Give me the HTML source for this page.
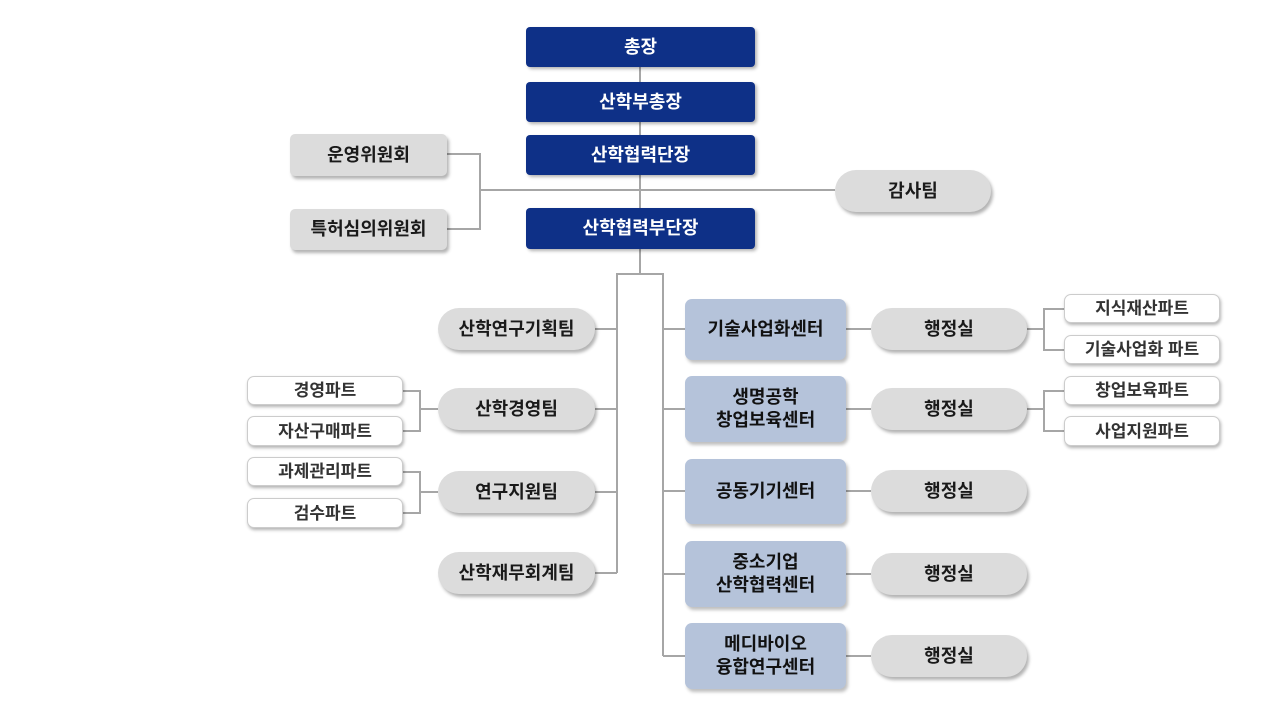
<!DOCTYPE html>
<html><head><meta charset="utf-8"><style>
body{margin:0;width:1280px;height:720px;background:#fff;position:relative;overflow:hidden;font-family:"Liberation Sans","Noto Sans CJK KR","NanumGothic",sans-serif;font-weight:bold}
.b{position:absolute;display:flex;align-items:center;justify-content:center;text-align:center;box-sizing:border-box;font-size:18px;line-height:23px;color:#1a1a1a}
.n{background:#0e3087;color:#fff;border-radius:4px;box-shadow:2px 2px 3px rgba(0,0,0,.3)}
.p{background:#dcdcdc;border-radius:21px;box-shadow:2px 3px 3px rgba(0,0,0,.3)}
.g{background:#dcdcdc;border-radius:5px;box-shadow:2px 3px 3px rgba(0,0,0,.3)}
.c{background:#b5c3da;border-radius:7px;box-shadow:2px 3px 3px rgba(0,0,0,.25);color:#111}
.w{background:#fff;border:1px solid #ccc;border-radius:7px;box-shadow:1px 2px 3px rgba(0,0,0,.3);font-size:17px;color:#333}
.l{position:absolute;background:#a6a6a6}
</style></head><body>
<div class="l" style="left:639px;top:67px;width:2px;height:208px"></div>
<div class="l" style="left:480px;top:189px;width:355px;height:2px"></div>
<div class="l" style="left:447px;top:153px;width:34px;height:2px"></div>
<div class="l" style="left:447px;top:228px;width:34px;height:2px"></div>
<div class="l" style="left:479px;top:153px;width:2px;height:77px"></div>
<div class="l" style="left:617px;top:273px;width:47px;height:2px"></div>
<div class="l" style="left:616px;top:273px;width:2px;height:300px"></div>
<div class="l" style="left:662px;top:273px;width:2px;height:383px"></div>
<div class="l" style="left:595px;top:328px;width:22px;height:2px"></div>
<div class="l" style="left:595px;top:408px;width:22px;height:2px"></div>
<div class="l" style="left:595px;top:491px;width:22px;height:2px"></div>
<div class="l" style="left:595px;top:572px;width:22px;height:2px"></div>
<div class="l" style="left:403px;top:390px;width:17px;height:2px"></div>
<div class="l" style="left:403px;top:430px;width:17px;height:2px"></div>
<div class="l" style="left:419px;top:390px;width:2px;height:42px"></div>
<div class="l" style="left:420px;top:408px;width:18px;height:2px"></div>
<div class="l" style="left:403px;top:471px;width:17px;height:2px"></div>
<div class="l" style="left:403px;top:512px;width:17px;height:2px"></div>
<div class="l" style="left:419px;top:471px;width:2px;height:43px"></div>
<div class="l" style="left:420px;top:491px;width:18px;height:2px"></div>
<div class="l" style="left:663px;top:328px;width:22px;height:2px"></div>
<div class="l" style="left:663px;top:408px;width:22px;height:2px"></div>
<div class="l" style="left:663px;top:490px;width:22px;height:2px"></div>
<div class="l" style="left:663px;top:573px;width:22px;height:2px"></div>
<div class="l" style="left:663px;top:655px;width:22px;height:2px"></div>
<div class="l" style="left:846px;top:328px;width:25px;height:2px"></div>
<div class="l" style="left:846px;top:408px;width:25px;height:2px"></div>
<div class="l" style="left:846px;top:490px;width:25px;height:2px"></div>
<div class="l" style="left:846px;top:573px;width:25px;height:2px"></div>
<div class="l" style="left:846px;top:655px;width:25px;height:2px"></div>
<div class="l" style="left:1027px;top:328px;width:17px;height:2px"></div>
<div class="l" style="left:1043px;top:308px;width:2px;height:42px"></div>
<div class="l" style="left:1043px;top:308px;width:21px;height:2px"></div>
<div class="l" style="left:1043px;top:349px;width:21px;height:2px"></div>
<div class="l" style="left:1027px;top:408px;width:17px;height:2px"></div>
<div class="l" style="left:1043px;top:390px;width:2px;height:42px"></div>
<div class="l" style="left:1043px;top:390px;width:21px;height:2px"></div>
<div class="l" style="left:1043px;top:430px;width:21px;height:2px"></div>
<div class="b n" style="left:526px;top:27px;width:229px;height:40px">총장</div>
<div class="b n" style="left:526px;top:82px;width:229px;height:40px">산학부총장</div>
<div class="b n" style="left:526px;top:135px;width:229px;height:40px">산학협력단장</div>
<div class="b n" style="left:526px;top:208px;width:229px;height:41px">산학협력부단장</div>
<div class="b g" style="left:290px;top:134px;width:157px;height:42px">운영위원회</div>
<div class="b g" style="left:290px;top:209px;width:157px;height:41px">특허심의위원회</div>
<div class="b p" style="left:835px;top:170px;width:156px;height:42px">감사팀</div>
<div class="b p" style="left:438px;top:308px;width:157px;height:42px">산학연구기획팀</div>
<div class="b p" style="left:438px;top:388px;width:157px;height:42px">산학경영팀</div>
<div class="b p" style="left:438px;top:471px;width:157px;height:42px">연구지원팀</div>
<div class="b p" style="left:438px;top:552px;width:157px;height:42px">산학재무회계팀</div>
<div class="b w" style="left:247px;top:376px;width:156px;height:29px">경영파트</div>
<div class="b w" style="left:247px;top:416px;width:156px;height:30px">자산구매파트</div>
<div class="b w" style="left:247px;top:457px;width:156px;height:29px">과제관리파트</div>
<div class="b w" style="left:247px;top:498px;width:156px;height:30px">검수파트</div>
<div class="b c" style="left:685px;top:299px;width:161px;height:61px">기술사업화센터</div>
<div class="b c" style="left:685px;top:376px;width:161px;height:66px">생명공학<br>창업보육센터</div>
<div class="b c" style="left:685px;top:459px;width:161px;height:65px">공동기기센터</div>
<div class="b c" style="left:685px;top:541px;width:161px;height:66px">중소기업<br>산학협력센터</div>
<div class="b c" style="left:685px;top:623px;width:161px;height:66px">메디바이오<br>융합연구센터</div>
<div class="b p" style="left:871px;top:308px;width:156px;height:42px">행정실</div>
<div class="b p" style="left:871px;top:388px;width:156px;height:42px">행정실</div>
<div class="b p" style="left:871px;top:470px;width:156px;height:42px">행정실</div>
<div class="b p" style="left:871px;top:553px;width:156px;height:42px">행정실</div>
<div class="b p" style="left:871px;top:635px;width:156px;height:42px">행정실</div>
<div class="b w" style="left:1064px;top:294px;width:156px;height:29px">지식재산파트</div>
<div class="b w" style="left:1064px;top:335px;width:156px;height:29px">기술사업화 파트</div>
<div class="b w" style="left:1064px;top:376px;width:156px;height:29px">창업보육파트</div>
<div class="b w" style="left:1064px;top:416px;width:156px;height:30px">사업지원파트</div>
</body></html>
